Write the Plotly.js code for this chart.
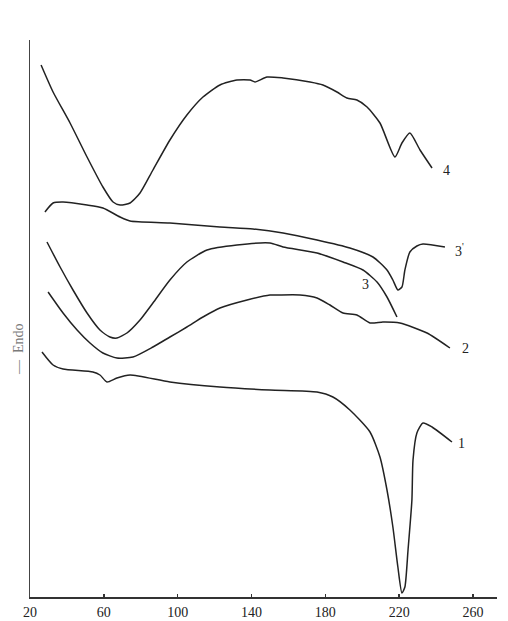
<!DOCTYPE html>
<html>
<head>
<meta charset="utf-8">
<script src="https://cdn.plot.ly/plotly-3.0.1.min.js"></script>
<style>
  html, body { margin: 0; padding: 0; background: #ffffff; }
  #chart { width: 508px; height: 621px; }
</style>
</head>
<body>
<div id="chart"></div>
<script>
// DSC thermograms: temperature (°C) vs. heat flow (arbitrary units, endo down)

const curve1Temp = [26.5, 32.5, 37.9, 54.1, 57.9, 61.7, 67.1, 74.2, 95.8, 122.9, 150.0, 175.5, 184.1, 193.3, 204.2, 209.6, 213.4, 216.6, 219.3, 221.5, 223.1, 224.8, 226.9, 227.5, 229.6, 232.9, 237.8, 248.6];
const curve1Heat = [24.5, 23.2, 22.8, 22.5, 22.2, 21.5, 21.9, 22.2, 21.5, 21.0, 20.7, 20.5, 20.0, 18.7, 16.5, 14.0, 10.7, 7.0, 3.0, 0.4, 1.0, 4.7, 9.7, 13.7, 16.4, 17.4, 17.0, 15.5];

const curve2Temp = [29.8, 37.9, 45.5, 52.5, 59.5, 67.1, 75.8, 86.6, 95.8, 105.0, 113.7, 122.9, 137.6, 150.0, 153.8, 166.3, 175.5, 182.5, 189.6, 197.1, 204.2, 211.2, 220.4, 235.1, 247.5];
const curve2Heat = [30.5, 28.4, 26.7, 25.4, 24.4, 23.9, 24.0, 25.0, 26.0, 27.0, 28.0, 28.9, 29.7, 30.2, 30.2, 30.2, 29.9, 29.2, 28.4, 28.2, 27.4, 27.5, 27.4, 26.4, 24.9];

const curve3Temp = [29.2, 36.3, 43.3, 50.9, 57.9, 63.3, 67.1, 72.5, 79.6, 86.6, 95.8, 105.0, 115.9, 132.1, 150.0, 157.1, 175.5, 189.6, 200.4, 208.0, 213.4, 218.8];
const curve3Heat = [35.5, 33.0, 30.7, 28.4, 26.7, 26.0, 25.9, 26.4, 27.7, 29.4, 31.7, 33.5, 34.7, 35.2, 35.4, 35.0, 34.4, 33.5, 32.7, 31.5, 30.0, 28.0];

const curve3pTemp = [28.1, 32.5, 37.9, 50.9, 59.5, 68.8, 74.2, 95.8, 122.9, 140.8, 157.1, 175.5, 193.3, 205.8, 213.4, 216.6, 219.3, 221.5, 223.1, 225.8, 229.6, 232.9, 244.8];
const curve3pHeat = [38.5, 39.4, 39.5, 39.2, 38.9, 38.0, 37.6, 37.4, 37.0, 36.8, 36.4, 35.7, 34.9, 34.0, 32.7, 31.7, 30.7, 31.0, 32.7, 34.5, 35.1, 35.3, 35.0];

const curve4Temp = [26.0, 32.5, 41.7, 50.9, 59.5, 65.0, 68.8, 74.2, 79.6, 86.6, 95.8, 105.0, 113.7, 122.9, 132.1, 139.2, 141.9, 148.4, 157.1, 171.7, 178.7, 186.3, 191.7, 197.1, 202.6, 209.6, 217.7, 221.5, 225.8, 231.3, 237.8];
const curve4Heat = [53.2, 50.5, 47.4, 44.0, 41.0, 39.5, 39.2, 39.4, 40.4, 42.7, 45.7, 48.2, 50.0, 51.2, 51.7, 51.7, 51.5, 52.0, 51.9, 51.5, 51.2, 50.5, 49.9, 49.7, 49.0, 47.4, 44.0, 45.4, 46.4, 44.7, 42.9];

// curve labels and where they sit
const labelText = ['1', '2', '3', '3<sup>\'</sup>', '4'];
const labelTemp = [254.0, 256.2, 202.0, 252.9, 245.9];
const labelHeat = [15.4, 24.9, 31.3, 34.7, 42.7];

const tickTemps = [20, 60, 100, 140, 180, 220, 260];

const lineStyle = { color: '#222222', width: 1.5, shape: 'spline', smoothing: 0.6 };

const series = [
  [curve1Temp, curve1Heat],
  [curve2Temp, curve2Heat],
  [curve3Temp, curve3Heat],
  [curve3pTemp, curve3pHeat],
  [curve4Temp, curve4Heat]
];

const traces = series.map(([t, h]) => ({
  x: t, y: h, type: 'scatter', mode: 'lines',
  line: lineStyle, hoverinfo: 'skip', showlegend: false
}));

const serif = '"Liberation Serif", "Times New Roman", serif';

const annotations = labelText.map((txt, i) => ({
  x: labelTemp[i], y: labelHeat[i], xref: 'x', yref: 'y',
  text: txt, showarrow: false, xanchor: 'center', yanchor: 'middle',
  font: { family: serif, size: 14, color: '#222222' }
}));

// rotated y-axis caption with the endotherm arrow
annotations.push({
  x: -0.026, y: 0.445, xref: 'paper', yref: 'paper',
  text: '—  Endo', textangle: -90, showarrow: false,
  xanchor: 'center', yanchor: 'middle',
  font: { family: serif, size: 14, color: '#7a7a7a' }
});

const layout = {
  width: 508, height: 621,
  margin: { l: 30, r: 11, t: 40, b: 24 },
  paper_bgcolor: '#ffffff', plot_bgcolor: '#ffffff',
  showlegend: false,
  xaxis: {
    range: [20, 273], tickvals: tickTemps, ticktext: tickTemps.map(String),
    ticks: 'inside', ticklen: 3, tickwidth: 1.5, tickcolor: '#333333',
    showline: true, linecolor: '#333333', linewidth: 1.5,
    showgrid: false, zeroline: false,
    tickfont: { family: serif, size: 14, color: '#222222' },
    ticklabelstandoff: 2
  },
  yaxis: {
    range: [0, 55.7], showticklabels: false, ticks: '',
    showline: true, linecolor: '#444444', linewidth: 1.5,
    showgrid: false, zeroline: false
  },
  annotations: annotations
};

Plotly.newPlot('chart', traces, layout, { displayModeBar: false, staticPlot: true });
</script>
</body>
</html>
